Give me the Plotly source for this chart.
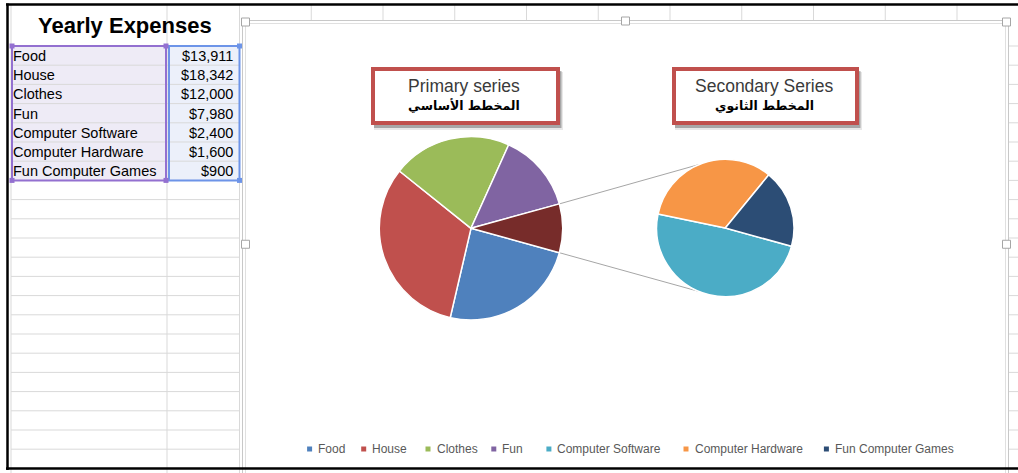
import math
import plotly.graph_objects as go

W, H = 1018, 473

# ---- worksheet data -------------------------------------------------------
table_title = "Yearly Expenses"
categories = ["Food", "House", "Clothes", "Fun",
              "Computer Software", "Computer Hardware", "Fun Computer Games"]
amounts = [13911, 18342, 12000, 7980, 2400, 1600, 900]

# first four go to the main pie, the last three are split out into the second pie
n_primary = 4
primary_labels = categories[:n_primary]
primary_values = amounts[:n_primary]
secondary_labels = categories[n_primary:]
secondary_values = amounts[n_primary:]
other_label = "Other"
other_value = sum(secondary_values)

slice_colors = ["#4F81BD", "#C0504D", "#9BBB59", "#8064A2",
                "#4BACC6", "#F79646", "#2C4D75"]
other_color = "#772C2A"

box_titles = ["Primary series", "Secondary Series"]
box_subtitles = ["المخطط الأساسي", "المخطط الثانوي"]


# ---- pixel -> paper helpers -----------------------------------------------
def X(px):
    return px / W


def Y(py):
    return 1 - py / H


shapes = []
annotations = []


def line(x0, y0, x1, y1, color, width=1.0, layer="below"):
    shapes.append(dict(type="line", xref="paper", yref="paper",
                       x0=X(x0), y0=Y(y0), x1=X(x1), y1=Y(y1),
                       line=dict(color=color, width=width), layer=layer))


def rect(x0, y0, x1, y1, fill=None, color=None, width=0, opacity=1.0, layer="below"):
    shapes.append(dict(type="rect", xref="paper", yref="paper",
                       x0=X(x0), y0=Y(y0), x1=X(x1), y1=Y(y1),
                       fillcolor=fill if fill else "rgba(0,0,0,0)",
                       line=dict(color=color if color else "rgba(0,0,0,0)", width=width),
                       opacity=opacity, layer=layer))


def text(x, y, s, size, color="#000000", family="Liberation Sans, Arial",
         xanchor="center", yanchor="middle"):
    annotations.append(dict(x=X(x), y=Y(y), xref="paper", yref="paper",
                            text=s, showarrow=False, xanchor=xanchor, yanchor=yanchor,
                            font=dict(size=size, color=color, family=family)))


# ---- worksheet grid -------------------------------------------------------
GRID = "#D9D9D9"
row_top = 46.0
row_h = 19.2
n_rows = 22
col_left, col_mid, col_right = 11.0, 167.0, 239.5

# selected data ranges fill
rect(col_left, row_top, col_mid, row_top + row_h * len(categories), fill="#EEEBF6")
rect(col_mid, row_top, col_right, row_top + row_h * len(categories), fill="#ECF0FA")

for k in range(n_rows + 1):
    yy = row_top + k * row_h
    line(col_left, yy, col_right, yy, GRID)
    line(1009, yy, W, yy, GRID)
for xx in (col_left, col_mid, col_right):
    line(xx, 5, xx, H, GRID)
for k in range(1, 11):
    xx = col_right + k * 71.75
    line(xx, 5, xx, 22, GRID)

# table text
text(125, 26, "<b>%s</b>" % table_title, 22)
for i, (cat, val) in enumerate(zip(categories, amounts)):
    yc = row_top + (i + 0.5) * row_h + 0.5
    text(col_left, yc, cat, 14.5, xanchor="left")
    text(col_right - 5, yc, "${:,}".format(val), 14.5, xanchor="right")

# range selection outlines and handles
sel_bottom = row_top + row_h * len(categories)
rect(col_left + 1, row_top, col_mid - 1, sel_bottom, color="#9370D0", width=2)
rect(col_mid + 2, row_top, col_right, sel_bottom, color="#6D94E8", width=2)
for hx, hy, c in [(col_left + 1, row_top, "#9370D0"), (col_mid - 1, row_top, "#9370D0"),
                  (col_left + 1, sel_bottom, "#9370D0"), (col_mid - 1, sel_bottom, "#9370D0"),
                  (col_right, row_top, "#6D94E8"), (col_right, sel_bottom, "#6D94E8")]:
    rect(hx - 2.5, hy - 2.5, hx + 2.5, hy + 2.5, fill=c)

# ---- chart area frame -----------------------------------------------------
cl, ct, cr = 242.5, 20.5, 1008.5
rect(cl, ct, cr, H + 10, fill="#FFFFFF", color="#C8C8C8", width=1)
rect(cl + 3, ct + 3, cr - 3, H + 10, color="#E0E0E0", width=1)
for hx, hy in [(cl + 3, ct + 1.5), ((cl + cr) / 2, ct + 0.5), (cr - 2, ct + 1.5),
               (cl + 3, (ct + 468) / 2), (cr - 2, (ct + 468) / 2)]:
    rect(hx - 4, hy - 4, hx + 4, hy + 4, fill="#FFFFFF", color="#A6A6A6", width=1)

# outer window border
line(6, 4.5, W, 4.5, "#000000", 2.5, layer="above")
line(7.5, 3.5, 7.5, 470, "#000000", 2.5, layer="above")
line(6, 468.5, W, 468.5, "#000000", 2.5, layer="above")

# ---- pie geometry ---------------------------------------------------------
total = sum(primary_values) + other_value
other_half = 180.0 * other_value / total          # half angle of the "Other" slice
rotation = 90 + other_half                         # keeps "Other" centred on the right

c1x, c1y, r1 = 471.0, 228.3, 91.7
c2x, c2y, r2 = 725.3, 228.0, 68.7
join_angle = 112.5

# connector lines between the two pies
for sgn in (1, -1):
    a0 = math.radians(sgn * other_half)
    a1 = math.radians(sgn * join_angle)
    line(c1x + r1 * math.cos(a0), c1y - r1 * math.sin(a0),
         c2x + r2 * math.cos(a1), c2y - r2 * math.sin(a1), "#A6A6A6", 1)

fig = go.Figure()
fig.add_trace(go.Pie(
    labels=primary_labels + [other_label],
    values=primary_values + [other_value],
    marker=dict(colors=slice_colors[:n_primary] + [other_color],
                line=dict(color="#FFFFFF", width=1.5)),
    sort=False, direction="clockwise", rotation=rotation,
    textinfo="none", showlegend=False,
    domain=dict(x=[X(c1x - r1), X(c1x + r1)], y=[Y(c1y + r1), Y(c1y - r1)]),
))
fig.add_trace(go.Pie(
    labels=secondary_labels,
    values=secondary_values,
    marker=dict(colors=slice_colors[n_primary:],
                line=dict(color="#FFFFFF", width=1.5)),
    sort=False, direction="clockwise", rotation=rotation,
    textinfo="none", showlegend=False,
    domain=dict(x=[X(c2x - r2), X(c2x + r2)], y=[Y(c2y + r2), Y(c2y - r2)]),
))

# ---- callout boxes --------------------------------------------------------
for (bx0, bx1), title, sub in zip([(373.0, 558.0), (674.0, 857.0)], box_titles, box_subtitles):
    by0, by1 = 69.0, 123.0
    rect(bx0 + 1, by0 + 3, bx1 + 5, by1 + 7, fill="#7F7F7F", opacity=0.18)
    rect(bx0 + 1, by0 + 2, bx1 + 3.5, by1 + 5, fill="#595959", opacity=0.45)
    rect(bx0, by0, bx1, by1, fill="#FFFFFF", color="#C0504D", width=4)
    cx = (bx0 + bx1) / 2
    text(cx - 1.5, 86.5, title, 17.5, color="#3A3A3A")
    text(cx - 1.5, 105.5, "<b>%s</b>" % sub, 12.5, family="DejaVu Sans")

# ---- legend ---------------------------------------------------------------
legend_x = [309.6, 363.7, 428.0, 493.8, 548.9, 686.0, 826.4]
legend_y = 449.0
for lx, name, col in zip(legend_x, categories, slice_colors):
    rect(lx - 2.5, legend_y - 2.5, lx + 2.5, legend_y + 2.5, fill=col)
    text(lx + 6.5, legend_y, name, 12, color="#595959", xanchor="left")

fig.update_layout(
    width=W, height=H,
    margin=dict(l=0, r=0, t=0, b=0),
    paper_bgcolor="#FFFFFF",
    plot_bgcolor="#FFFFFF",
    showlegend=False,
    shapes=shapes,
    annotations=annotations,
)

fig.write_html("out.html")
